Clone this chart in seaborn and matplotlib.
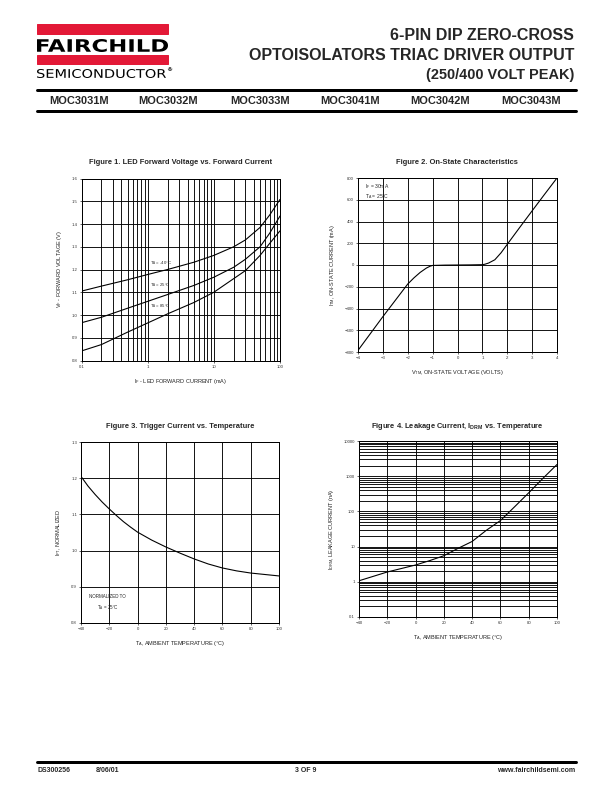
import matplotlib
matplotlib.use("Agg")
import matplotlib.pyplot as plt
import matplotlib.ticker as mticker
from matplotlib.patches import Rectangle, PathPatch
from matplotlib.textpath import TextPath
from matplotlib.font_manager import FontProperties
from matplotlib.transforms import Affine2D
import seaborn as sns
import numpy as np

# ======= DATA ========= #
part_numbers = ["MOC3031M", "MOC3032M", "MOC3033M", "MOC3041M", "MOC3042M", "MOC3043M"]

# Figure 1 - LED forward voltage vs forward current
if_ma = [0.1, 0.2, 0.5, 1, 2, 5, 10, 20, 30, 50, 70, 100]
vf_m40 = [1.105, 1.127, 1.155, 1.178, 1.200, 1.232, 1.262, 1.300, 1.330, 1.385, 1.440, 1.508]
vf_25 = [0.966, 0.990, 1.030, 1.060, 1.090, 1.130, 1.166, 1.210, 1.245, 1.300, 1.360, 1.435]
vf_85 = [0.842, 0.870, 0.925, 0.965, 1.005, 1.055, 1.100, 1.160, 1.195, 1.262, 1.315, 1.370]

# Figure 2 - on-state characteristics
vtm = [-4, -3.5, -3, -2.5, -2, -1.75, -1.5, -1.25, -1.1, -1, -0.5, 0,
       0.5, 1, 1.1, 1.25, 1.5, 1.75, 2, 2.5, 3, 3.5, 4]
itm = [-785, -630, -475, -325, -175, -118, -68, -28, -11, -4, -1, 0,
       1, 3, 7, 18, 48, 112, 190, 345, 498, 650, 800]

# Figure 3 - trigger current vs temperature
temp3 = [-40, -35, -30, -25, -20, -15, -10, -5, 0, 10, 20, 30, 40, 50, 60, 70, 80, 90, 100]
ift = [1.205, 1.178, 1.155, 1.134, 1.115, 1.097, 1.080, 1.065, 1.051, 1.029, 1.010,
       0.993, 0.977, 0.963, 0.952, 0.944, 0.938, 0.934, 0.930]

# Figure 4 - leakage current vs temperature
temp4 = [-40, -20, 0, 10, 20, 30, 40, 50, 60, 70, 80, 90, 100]
idrm = [1.07, 1.9, 3.0, 4.0, 5.5, 8.9, 14, 29, 55, 135, 337, 865, 2150]

# ======= STYLE ========= #
sns.set_style("ticks")
plt.rcParams["font.family"] = ["Liberation Sans", "DejaVu Sans"]
plt.rcParams["mathtext.default"] = "regular"

W, H = 612, 792
fig = plt.figure(figsize=(W / 72, H / 72), dpi=72)
fig.patch.set_facecolor("white")


def add_ax(x0, y0, x1, y1):
    # pixel box -> figure coords
    return fig.add_axes([x0 / W, 1 - y1 / H, (x1 - x0) / W, (y1 - y0) / H])


def style_ax(ax):
    ax.tick_params(labelsize=4.3, length=2, width=0.6, direction="out",
                   colors="black", labelcolor="#333333", pad=2)
    ax.tick_params(which="minor", length=0)
    for sp in ax.spines.values():
        sp.set_linewidth(1.0)
        sp.set_color("black")
    ax.set_axisbelow(True)


def ftext(x, y, s, **kw):
    fig.text(x / W, 1 - y / H, s, **kw)


def box_text(s, x0, x1, ytop, ybot, prop, color="black"):
    # text squeezed into a pixel box (logo lettering)
    tp = TextPath((0, 0), s, size=10, prop=prop)
    ext = tp.get_extents()
    sx = (x1 - x0) / ext.width
    sy = (ybot - ytop) / ext.height
    tr = (Affine2D().translate(-ext.x0, -ext.y0).scale(sx / W, sy / H)
          .translate(x0 / W, 1 - ybot / H) + fig.transFigure)
    fig.patches.append(PathPatch(tp, transform=tr, color=color, lw=0))


# ======= HEADER ========= #
red = "#e31937"
fig.patches.append(Rectangle((37 / W, 1 - 34 / H), 131 / W, 10 / H,
                             transform=fig.transFigure, color=red, zorder=1))
fig.patches.append(Rectangle((37 / W, 1 - 64 / H), 131 / W, 9 / H,
                             transform=fig.transFigure, color=red, zorder=1))
box_text("FAIRCHILD", 37, 168, 39, 52,
         FontProperties(family="DejaVu Sans", weight="bold"))
box_text("SEMICONDUCTOR", 37, 166, 69, 78, FontProperties(family="DejaVu Sans"))
ftext(166.5, 70, "®", family="DejaVu Sans", size=6, weight="bold", ha="left", va="center")

ftext(574, 35, "6-PIN DIP ZERO-CROSS", weight="bold", size=16, ha="right", va="center")
ftext(574, 56, "OPTOISOLATORS TRIAC DRIVER OUTPUT", weight="bold", size=16, ha="right", va="center")
ftext(574, 75, "(250/400 VOLT PEAK)", weight="bold", size=14.5, ha="right", va="center")

for yy in (90, 111):
    fig.add_artist(plt.Line2D([37 / W, 576 / W], [1 - yy / H, 1 - yy / H],
                              transform=fig.transFigure, color="black", lw=3))
part_x = [79, 168, 260, 350, 440, 531]
for px, pn in zip(part_x, part_numbers):
    ftext(px, 101, pn, weight="bold", size=11, ha="center", va="center")

# ======= FOOTER ========= #
fig.add_artist(plt.Line2D([37 / W, 576 / W], [1 - 762 / H, 1 - 762 / H],
                          transform=fig.transFigure, color="black", lw=3))
ftext(37, 771, "DS300256", weight="bold", size=7, ha="left", va="center")
ftext(96, 771, "8/06/01", weight="bold", size=7, ha="left", va="center")
ftext(306, 771, "3 OF 9", weight="bold", size=7, ha="center", va="center")
ftext(575, 771, "www.fairchildsemi.com", weight="bold", size=7, ha="right", va="center")

title_kw = dict(weight="bold", size=7.5, ha="center", va="center")
lab_kw = dict(fontsize=5.5, color="#222222")

# ======= FIGURE 1 ========= #
ax1 = add_ax(81.5, 178.5, 280, 360.5)
for yv in (vf_m40, vf_25, vf_85):
    sns.lineplot(x=if_ma, y=yv, ax=ax1, color="black", lw=1.1)
ax1.set_xscale("log")
ax1.set_xlim(0.1, 100)
ax1.set_ylim(0.8, 1.6)
ax1.xaxis.set_major_locator(mticker.FixedLocator([0.1, 1, 10, 100]))
ax1.xaxis.set_major_formatter(mticker.FixedFormatter(["0.1", "1", "10", "100"]))
ax1.xaxis.set_minor_locator(mticker.LogLocator(base=10, subs=np.arange(2, 10)))
ax1.yaxis.set_major_locator(mticker.MultipleLocator(0.1))
ax1.yaxis.set_major_formatter(mticker.FormatStrFormatter("%.1f"))
ax1.grid(True, which="both", color="black", lw=0.9)
style_ax(ax1)
ax1.text(1.1, 1.227, "T$_A$ = -40°C", fontsize=4.3, va="center")
ax1.text(1.1, 1.132, "T$_A$ = 25°C", fontsize=4.3, va="center")
ax1.text(1.1, 1.037, "T$_A$ = 85°C", fontsize=4.3, va="center")
ax1.set_xlabel("I$_F$ - LED FORWARD CURRENT (mA)", labelpad=8, **lab_kw)
ax1.set_ylabel("V$_F$ - FORWARD VOLTAGE (V)", labelpad=8, **lab_kw)
ftext(181, 162, "Figure 1. LED Forward Voltage vs. Forward Current", **title_kw)

# ======= FIGURE 2 ========= #
ax2 = add_ax(358, 178, 557, 352)
sns.lineplot(x=vtm, y=itm, ax=ax2, color="black", lw=1.1)
ax2.set_xlim(-4, 4)
ax2.set_ylim(-800, 800)
ax2.xaxis.set_major_locator(mticker.MultipleLocator(1))
ax2.yaxis.set_major_locator(mticker.MultipleLocator(200))
ax2.grid(True, color="black", lw=0.9)
style_ax(ax2)
ax2.text(-3.7, 720, "I$_F$ = 30mA", fontsize=5, va="center")
ax2.text(-3.7, 630, "T$_A$ = 25°C", fontsize=5, va="center")
ax2.set_xlabel("V$_{TM}$, ON-STATE VOLTAGE (VOLTS)", labelpad=8, **lab_kw)
ax2.set_ylabel("I$_{TM}$, ON-STATE CURRENT (mA)", labelpad=8, **lab_kw)
ftext(457, 162, "Figure 2. On-State Characteristics", **title_kw)

# ======= FIGURE 3 ========= #
ax3 = add_ax(81, 442, 279, 623)
sns.lineplot(x=temp3, y=ift, ax=ax3, color="black", lw=1.1)
ax3.set_xlim(-40, 100)
ax3.set_ylim(0.8, 1.3)
ax3.xaxis.set_major_locator(mticker.MultipleLocator(20))
ax3.yaxis.set_major_locator(mticker.MultipleLocator(0.1))
ax3.yaxis.set_major_formatter(mticker.FormatStrFormatter("%.1f"))
ax3.grid(True, color="black", lw=0.9)
style_ax(ax3)
ax3.text(-21, 0.855, "NORMALIZED TO\nT$_A$ = 25°C", fontsize=4.5, ha="center",
         va="center", linespacing=1.6)
ax3.set_xlabel("T$_A$, AMBIENT TEMPERATURE (°C)", labelpad=8, **lab_kw)
ax3.set_ylabel("I$_{FT}$, NORMALIZED", labelpad=8, **lab_kw)
ftext(180, 427, "Figure 3. Trigger Current vs. Temperature", **title_kw)

# ======= FIGURE 4 ========= #
ax4 = add_ax(359, 441, 557, 617)
sns.lineplot(x=temp4, y=idrm, ax=ax4, color="black", lw=1.1)
ax4.set_yscale("log")
ax4.set_xlim(-40, 100)
ax4.set_ylim(0.1, 10000)
ax4.xaxis.set_major_locator(mticker.MultipleLocator(20))
ax4.yaxis.set_major_locator(mticker.FixedLocator([0.1, 1, 10, 100, 1000, 10000]))
ax4.yaxis.set_major_formatter(mticker.FixedFormatter(["0.1", "1", "10", "100", "1000", "10000"]))
ax4.yaxis.set_minor_locator(mticker.LogLocator(base=10, subs=np.arange(2, 10)))
ax4.grid(True, which="both", axis="y", color="black", lw=0.9)
ax4.grid(True, which="major", axis="x", color="black", lw=0.9)
style_ax(ax4)
ax4.set_xlabel("T$_A$, AMBIENT TEMPERATURE (°C)", labelpad=8, **lab_kw)
ax4.set_ylabel("I$_{DRM}$, LEAKAGE CURRENT (nA)", labelpad=8, **lab_kw)
ftext(457, 427, "Figure 4. Leakage Current, I$_{DRM}$ vs. Temperature", **title_kw)

fig.savefig("out.png", dpi=72, facecolor="white")
